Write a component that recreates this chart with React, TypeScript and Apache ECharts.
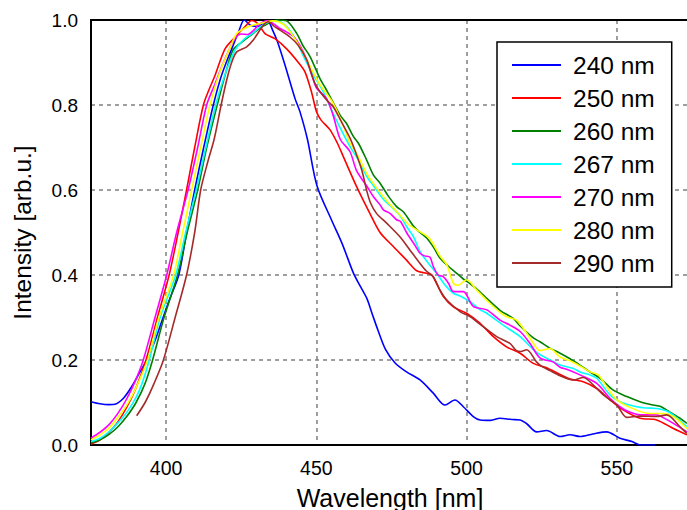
import React, { useEffect, useRef } from "react";
import * as echarts from "echarts";

const seriesNames = ["240 nm", "250 nm", "260 nm", "267 nm", "270 nm", "280 nm", "290 nm"];
const seriesColors = ["#0000ff", "#ff0000", "#008000", "#00ffff", "#ff00ff", "#ffff00", "#a52a2a"];

const s240: [number, number][] = [
  [375, 0.102], [378, 0.097], [381, 0.095], [383, 0.096], [385.8, 0.11], [388.5, 0.137], [391, 0.168],
  [393.5, 0.2], [396, 0.24], [398.5, 0.29], [401, 0.34], [404.2, 0.4], [406.8, 0.5], [409.5, 0.6],
  [412.5, 0.7], [415.7, 0.8], [418, 0.86], [420, 0.9], [422, 0.935], [424, 0.97], [426, 1.0],
  [428, 0.988], [430.5, 0.985], [432.5, 0.992], [434, 0.995], [435.5, 0.975], [437, 0.95],
  [439.6, 0.893], [442.9, 0.815], [444.5, 0.785], [447, 0.72], [450.2, 0.61], [455, 0.53],
  [458.5, 0.475], [462.3, 0.405], [464.5, 0.375], [466.8, 0.345], [468.5, 0.31], [470.5, 0.27],
  [473, 0.225], [476.2, 0.193], [480, 0.172], [484.5, 0.153], [488.9, 0.122], [492.8, 0.094],
  [496.1, 0.106], [498.9, 0.09], [502.2, 0.067], [504.5, 0.059], [508, 0.058], [511.1, 0.063],
  [515, 0.06], [517.8, 0.059], [520, 0.05], [523.3, 0.031], [526.6, 0.034], [531.1, 0.02],
  [534.4, 0.024], [537.7, 0.02], [542, 0.026], [546.6, 0.031], [551, 0.016], [555, 0.008],
  [557.7, 0.0], [562.7, 0.0],
];

const s250: [number, number][] = [
  [375, 0.002], [378, 0.012], [381, 0.03], [384, 0.055], [387, 0.09], [390, 0.135], [393.3, 0.2],
  [397.1, 0.3], [401, 0.4], [404, 0.5], [406.8, 0.6], [409.5, 0.7], [412.4, 0.8], [414.5, 0.84],
  [416.3, 0.87], [419.6, 0.932], [423, 0.96], [426.2, 0.984], [428.5, 0.999], [430.7, 0.99],
  [432.9, 0.968], [436.2, 0.956], [440.1, 0.932], [444, 0.9], [446.2, 0.878], [448.4, 0.83],
  [450, 0.785], [451.5, 0.765], [454.5, 0.742], [457, 0.71], [459, 0.678], [463.4, 0.608],
  [467.8, 0.545], [471.2, 0.5], [475.6, 0.467], [480, 0.435], [483.4, 0.41], [486.7, 0.404],
  [488.4, 0.4], [490, 0.38], [492.2, 0.35], [495.6, 0.325], [500, 0.31], [504.5, 0.286],
  [508.9, 0.255], [513.3, 0.231], [517.8, 0.216], [522.2, 0.192], [526.6, 0.182], [531.1, 0.166],
  [534.4, 0.155], [538.8, 0.149], [543.3, 0.133], [547.7, 0.106], [552.2, 0.082], [557.7, 0.063],
  [563.2, 0.059], [568.8, 0.039], [573.3, 0.024],
];

const s260: [number, number][] = [
  [375, 0.005], [378, 0.012], [381, 0.025], [384, 0.043], [387, 0.068], [390, 0.1], [393, 0.145],
  [395.5, 0.2], [399.3, 0.3], [403.8, 0.4], [407, 0.5], [410.5, 0.6], [413.5, 0.7], [417, 0.8],
  [420, 0.88], [422.3, 0.93], [425.6, 0.95], [428.9, 0.968], [431, 0.98], [433.5, 0.99],
  [436.8, 1.0], [440, 0.998], [443.4, 0.969], [445.5, 0.94], [447.9, 0.914], [451.2, 0.862],
  [453, 0.84], [455.1, 0.812], [458, 0.775], [460, 0.757], [462.3, 0.726], [464, 0.71],
  [466.7, 0.671], [469, 0.635], [471.2, 0.616], [474, 0.585], [476.7, 0.561], [479, 0.548],
  [482.3, 0.515], [484.5, 0.5], [486.7, 0.487], [489, 0.465], [491.1, 0.44], [494, 0.42],
  [496.7, 0.404], [499, 0.39], [501.1, 0.38], [504.5, 0.36], [506.7, 0.345], [511.1, 0.317],
  [515.5, 0.298], [517.8, 0.28], [522.2, 0.252], [524.4, 0.243], [527.7, 0.228], [531.1, 0.216],
  [534.4, 0.203], [537.7, 0.188], [541, 0.172], [544.4, 0.157], [548.8, 0.129], [553.3, 0.114],
  [557.7, 0.102], [562.1, 0.094], [564.4, 0.091], [566.6, 0.082], [571, 0.063], [573.3, 0.051],
];

const s267: [number, number][] = [
  [375, 0.008], [378, 0.016], [381, 0.031], [384, 0.052], [387, 0.078], [390, 0.112], [392, 0.145],
  [394.4, 0.2], [398, 0.3], [403.2, 0.4], [406.5, 0.5], [410, 0.6], [413.2, 0.7], [416.5, 0.8],
  [419.5, 0.87], [423, 0.93], [426, 0.955], [429, 0.97], [431.5, 0.985], [434, 0.995], [437, 0.997],
  [440, 0.985], [443, 0.955], [446, 0.91], [449, 0.87], [452, 0.835], [455.6, 0.78], [458, 0.745],
  [461.2, 0.702], [464, 0.67], [466.7, 0.633], [469, 0.61], [472.3, 0.578], [475, 0.56],
  [477.8, 0.54], [480, 0.514], [482.3, 0.49], [484.5, 0.455], [487, 0.43], [490, 0.404],
  [493, 0.375], [495.6, 0.357], [498, 0.35], [501.1, 0.337], [504.5, 0.318], [506.7, 0.31],
  [512.2, 0.282], [517.8, 0.255], [523.3, 0.218], [528.9, 0.196], [531.1, 0.188], [535.5, 0.18],
  [537.7, 0.172], [541, 0.165], [543.3, 0.157], [547.7, 0.118], [551, 0.102], [556.6, 0.09],
  [560, 0.087], [563.2, 0.086], [566.6, 0.08], [568.8, 0.07], [573.3, 0.043],
];

const s270: [number, number][] = [
  [375, 0.016], [378, 0.03], [381, 0.048], [384, 0.075], [387, 0.11], [390, 0.155], [392.4, 0.2],
  [396.3, 0.3], [400.2, 0.4], [403.5, 0.5], [407.3, 0.6], [410.5, 0.7], [413.5, 0.8], [416.3, 0.85],
  [419.6, 0.909], [422.9, 0.956], [425.1, 0.967], [427, 0.966], [429, 0.975], [431, 0.99],
  [433.5, 0.998], [436, 0.99], [437.9, 0.98], [440, 0.972], [442.3, 0.962], [444.5, 0.94],
  [446.8, 0.906], [448.5, 0.87], [450.1, 0.839], [453.4, 0.815], [455.6, 0.775], [457.9, 0.72],
  [461.2, 0.69], [463.4, 0.645], [466.7, 0.61], [469, 0.584], [471.2, 0.565], [472.3, 0.553],
  [474.5, 0.545], [476.7, 0.53], [478, 0.526], [480, 0.5], [482.8, 0.47], [484.5, 0.451],
  [486, 0.445], [487.8, 0.442], [488.9, 0.42], [490.5, 0.4], [492.2, 0.396], [494, 0.38],
  [495.6, 0.361], [498.9, 0.361], [502.2, 0.326], [506.7, 0.318], [511.1, 0.294], [514.4, 0.282],
  [517.8, 0.267], [521.1, 0.239], [524.4, 0.205], [528.9, 0.195], [531.1, 0.183], [533.3, 0.178],
  [537.7, 0.165], [543.3, 0.145], [547.7, 0.11], [551, 0.09], [554, 0.078], [557.7, 0.071],
  [563.2, 0.071], [566, 0.062], [568.8, 0.051], [573.3, 0.031],
];

const s280: [number, number][] = [
  [375, 0.012], [378, 0.024], [381, 0.04], [384, 0.066], [387, 0.095], [390, 0.135], [393.8, 0.2],
  [397.6, 0.3], [402.5, 0.4], [405.5, 0.5], [408.5, 0.6], [411.5, 0.7], [414.6, 0.8], [418, 0.88],
  [421.3, 0.935], [423.5, 0.968], [426, 0.98], [429, 0.988], [432, 0.993], [435.6, 0.998],
  [439, 0.99], [442, 0.965], [445, 0.93], [448, 0.89], [451, 0.85], [455.6, 0.804], [459, 0.75],
  [461.2, 0.71], [463.4, 0.686], [466.7, 0.639], [469, 0.615], [472.3, 0.584], [475, 0.562],
  [477.8, 0.541], [480.5, 0.52], [483.4, 0.506], [486.7, 0.492], [488, 0.483], [490, 0.459],
  [491.1, 0.445], [493.4, 0.424], [495.6, 0.38], [497.2, 0.376], [500, 0.389], [503.3, 0.365],
  [507.8, 0.333], [512.2, 0.306], [514, 0.3], [516.6, 0.294], [520, 0.263], [523.3, 0.228],
  [524.4, 0.222], [527.7, 0.227], [531.1, 0.207], [534.4, 0.198], [537.7, 0.186], [541.1, 0.172],
  [543.8, 0.165], [546.6, 0.137], [550, 0.106], [555.5, 0.085], [561, 0.074], [565.5, 0.074],
  [568.8, 0.067], [573.3, 0.039],
];

const s290: [number, number][] = [
  [390.2, 0.069], [393, 0.1], [396, 0.145], [399.1, 0.2], [403, 0.3], [406.8, 0.4], [409.5, 0.5],
  [411.5, 0.6], [414, 0.67], [416, 0.72], [418.3, 0.8], [420.2, 0.86], [421.8, 0.9], [423.5, 0.925],
  [426.8, 0.937], [429, 0.953], [432.4, 0.988], [434, 0.996], [436, 0.985], [437.9, 0.976],
  [441.2, 0.96], [444, 0.94], [446.8, 0.906], [448.5, 0.87], [450.1, 0.843], [453.4, 0.812],
  [455.6, 0.796], [458, 0.765], [461.2, 0.722], [463, 0.69], [465.1, 0.647], [466.7, 0.6],
  [468, 0.57], [470, 0.545], [473.4, 0.522], [477.8, 0.49], [481.1, 0.459], [484.5, 0.427],
  [486.5, 0.41], [488.9, 0.396], [491.1, 0.365], [493.4, 0.341], [497.8, 0.314], [501.1, 0.302],
  [505.6, 0.278], [510, 0.255], [514.4, 0.239], [516.6, 0.222], [518, 0.22], [520, 0.224],
  [523.3, 0.195], [525, 0.185], [527.7, 0.175], [531.1, 0.163], [535.5, 0.153], [538.8, 0.159],
  [542.2, 0.141], [545.5, 0.118], [550, 0.094], [553.3, 0.065], [557.7, 0.068], [563.2, 0.067],
  [566.6, 0.071], [571, 0.043], [573.3, 0.027],
];

const seriesData = [s240, s250, s260, s267, s270, s280, s290];

const FONT = "Liberation Sans";

export default function App() {
  const ref = useRef<HTMLDivElement>(null);
  useEffect(() => {
    if (!ref.current) return;
    const chart = echarts.init(ref.current, null, { renderer: "svg" });
    chart.setOption({
      animation: false,
      backgroundColor: "#ffffff",
      textStyle: { fontFamily: FONT },
      grid: {
        left: 91,
        top: 20,
        right: -2,
        bottom: 65,
        containLabel: false,
        outerBoundsMode: "none",
        show: true,
        borderColor: "#000",
        borderWidth: 2,
        backgroundColor: "transparent",
      },
      xAxis: [
        {
          type: "value",
          min: 375,
          max: 574,
          splitNumber: 4,
          name: "Wavelength [nm]",
          nameLocation: "middle",
          nameGap: 40,
          nameTextStyle: { fontSize: 25, color: "#000", fontFamily: FONT },
          axisLine: { show: true, onZero: false, lineStyle: { color: "#000", width: 2 } },
          axisTick: { show: false },
          axisLabel: {
            fontSize: 19.5,
            color: "#000",
            margin: 13,
            showMinLabel: false,
            showMaxLabel: false,
            fontFamily: FONT,
          },
          splitLine: { show: true, lineStyle: { color: "#808080", type: [4, 4], width: 1.5 } },
        },
        {
          type: "value",
          position: "top",
          min: 375,
          max: 574,
          splitNumber: 4,
          axisLine: { show: true, onZero: false, lineStyle: { color: "#000", width: 2 } },
          axisTick: { show: false },
          axisLabel: { show: false },
          splitLine: { show: false },
        },
      ],
      yAxis: {
        type: "value",
        min: 0,
        max: 1,
        interval: 0.2,
        name: "Intensity [arb.u.]",
        nameLocation: "middle",
        nameGap: 56,
        nameTextStyle: { fontSize: 24.5, color: "#000", fontFamily: FONT },
        axisLine: { show: true, lineStyle: { color: "#000", width: 2 } },
        axisTick: { show: false },
        axisLabel: {
          fontSize: 19,
          color: "#000",
          margin: 13,
          fontFamily: FONT,
          formatter: (v: number) => v.toFixed(1),
        },
        splitLine: { show: true, lineStyle: { color: "#808080", type: [4, 4], width: 1.5 } },
      },
      legend: {
        orient: "vertical",
        left: 497,
        top: 42,
        padding: [10, 17, 11, 15],
        icon: "rect",
        itemWidth: 49,
        itemHeight: 2,
        itemGap: 7,
        borderColor: "#000",
        borderWidth: 1.5,
        backgroundColor: "#fff",
        textStyle: { fontSize: 24.5, color: "#000", fontFamily: FONT, lineHeight: 26, padding: [0, 0, 0, 7] },
        data: seriesNames,
      },
      series: seriesData.map((d, i) => ({
        name: seriesNames[i],
        type: "line",
        xAxisIndex: 0,
        data: d,
        symbol: "none",
        smooth: 0.3,
        lineStyle: { width: 1.6, color: seriesColors[i] },
        itemStyle: { color: seriesColors[i] },
      })),
    });
    return () => chart.dispose();
  }, []);
  return <div ref={ref} style={{ position: "fixed", left: 0, top: 0, width: 687, height: 510 }} />;
}
